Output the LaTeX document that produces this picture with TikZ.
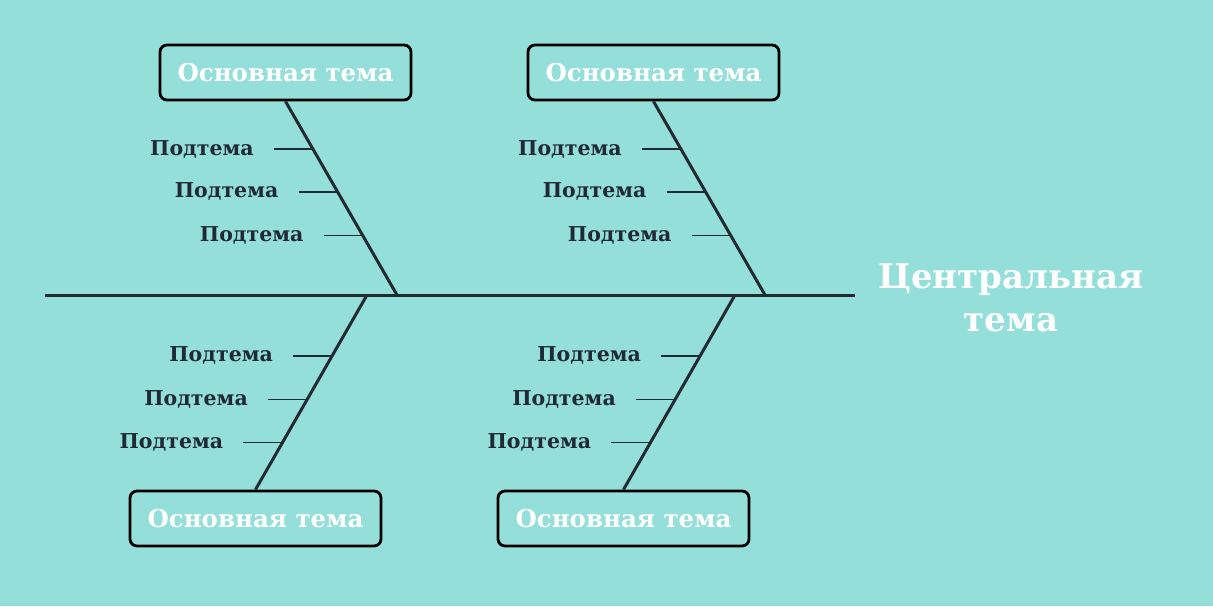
\documentclass[tikz,border=0pt]{standalone}
\usepackage{fontspec}
\setmainfont{DejaVu Serif}
\usetikzlibrary{calc}
\definecolor{sea}{HTML}{94DFD9}
\definecolor{ink}{HTML}{1F2A33}
\begin{document}
\begin{tikzpicture}[
        x=1pt, y=-1pt,
        topic/.style={draw=black, line width=2.8pt, rounded corners=7pt, fill=sea, minimum width=251pt, minimum height=55pt, inner sep=0pt, font=\fontsize{24.5}{28}\selectfont\bfseries, text=white},
        sub/.style={font=\fontsize{20.5}{24}\selectfont\bfseries, text=ink, inner sep=0pt},
        central/.style={font=\fontsize{34}{43}\selectfont\bfseries, text=white, align=center, inner sep=0pt},
        spine/.style={ink, line width=3pt},
        bone/.style={ink, line width=3pt},
        twig/.style={ink, line width=1.5pt},
      ]

      \fill[sea] (0,0) rectangle (1213,606);

      % spine and joints
      \coordinate (tail) at (45,295);
      \coordinate (head) at (855,295);
      \coordinate (j1) at (397,295);
      \coordinate (j2) at (765,295);
      \coordinate (j3) at (367,295);
      \coordinate (j4) at (735,295);
      \draw[spine] (tail) -- (head);

      \node[central] (centre) at (1011,298) {Центральная\\тема};

      % main topics
      \node[topic] (t1) at (285.5,72.5) {Основная тема};
      \node[topic] (t2) at (653.5,72.5) {Основная тема};
      \node[topic] (b1) at (255.5,518.5) {Основная тема};
      \node[topic] (b2) at (623.5,518.5) {Основная тема};

      \draw[bone] (t1.south) -- (j1);
      \draw[bone] (t2.south) -- (j2);
      \draw[bone] (j3) -- (b1.north);
      \draw[bone] (j4) -- (b2.north);

      % subtopics
      \foreach \b/\j in {t1/j1, t2/j2} {
        \foreach \t [count=\i] in {0.246,0.467,0.692} {
          \coordinate (\b-e\i) at ($(\b.south)!\t!(\j)$);
          \coordinate (\b-s\i) at ($(\b-e\i)+(-39,0)$);
          \node[sub, anchor=east] (\b-l\i) at ($(\b-s\i)+(-20,0)$) {Подтема};
          \draw[twig] (\b-s\i) -- (\b-e\i);
        }
      }
      \foreach \b/\j in {b1/j3, b2/j4} {
        \foreach \t [count=\i] in {0.313,0.538,0.759} {
          \coordinate (\b-e\i) at ($(\j)!\t!(\b.north)$);
          \coordinate (\b-s\i) at ($(\b-e\i)+(-39,0)$);
          \node[sub, anchor=east] (\b-l\i) at ($(\b-s\i)+(-20,0)$) {Подтема};
          \draw[twig] (\b-s\i) -- (\b-e\i);
        }
      }

    \end{tikzpicture}
\end{document}
